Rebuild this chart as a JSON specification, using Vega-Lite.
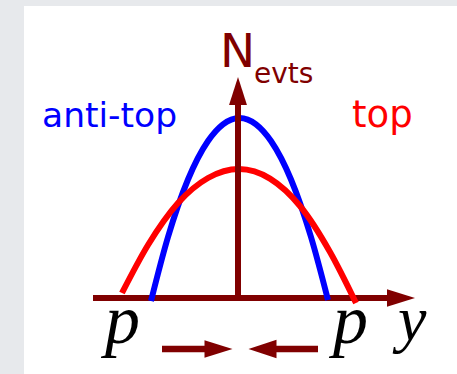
{
  "$schema": "https://vega.github.io/schema/vega-lite/v6.json",
  "autosize": {"type": "fit", "contains": "padding"},
  "width": 457,
  "height": 374,
  "padding": 0,
  "background": "#e7e9ec",
  "config": {"view": {"stroke": null}},
  "datasets": {
    "panel": [{"u": -214, "v": -76, "u2": 219, "v2": 292}],
    "curves": [
      {"series": "anti-top", "u": -87, "v": -3},
      {"series": "anti-top", "u": -70, "v": 61},
      {"series": "anti-top", "u": -50, "v": 118.5},
      {"series": "anti-top", "u": -30, "v": 157},
      {"series": "anti-top", "u": -15, "v": 173.7},
      {"series": "anti-top", "u": 1.5, "v": 180},
      {"series": "anti-top", "u": 18, "v": 173.7},
      {"series": "anti-top", "u": 33, "v": 157},
      {"series": "anti-top", "u": 53, "v": 118.5},
      {"series": "anti-top", "u": 73, "v": 61},
      {"series": "anti-top", "u": 90, "v": -2},
      {"series": "top", "u": -116, "v": 5},
      {"series": "top", "u": -90, "v": 53},
      {"series": "top", "u": -60, "v": 95},
      {"series": "top", "u": -30, "v": 120},
      {"series": "top", "u": 1, "v": 129},
      {"series": "top", "u": 32, "v": 119.4},
      {"series": "top", "u": 62, "v": 92},
      {"series": "top", "u": 92, "v": 46},
      {"series": "top", "u": 118, "v": -5}
    ],
    "hAxis": [{"u": -145, "v": 0, "u2": 152, "v2": 0}],
    "vAxis": [{"u": 0, "v": 0, "u2": 0, "v2": 195}],
    "shafts": [
      {"u": -76, "v": -51, "u2": -31, "v2": -51},
      {"u": 80, "v": -51, "u2": 36, "v2": -51}
    ],
    "headsRight": [{"u": 163, "v": 0}, {"u": -19.5, "v": -51}],
    "headsLeft": [{"u": 24.5, "v": -51}],
    "headsUp": [{"u": 0, "v": 207}],
    "labels": [
      {"kind": "N", "u": -18, "v": 231, "text": "N"},
      {"kind": "sub", "u": 16, "v": 215, "text": "evts"},
      {"kind": "anti", "u": -196, "v": 171, "text": "anti-top"},
      {"kind": "top", "u": 114, "v": 171, "text": "top"},
      {"kind": "p", "u": -133, "v": -45, "text": "p"},
      {"kind": "p", "u": 95, "v": -45, "text": "p"},
      {"kind": "y", "u": 160, "v": -42, "text": "y"}
    ]
  },
  "encoding": {
    "x": {"field": "u", "type": "quantitative", "axis": null, "scale": {"domain": [-238, 219], "nice": false, "zero": false}},
    "y": {"field": "v", "type": "quantitative", "axis": null, "scale": {"domain": [-76, 298], "nice": false, "zero": false}}
  },
  "layer": [
    {
      "data": {"name": "panel"},
      "mark": {"type": "rect", "color": "#ffffff"},
      "encoding": {"x2": {"field": "u2"}, "y2": {"field": "v2"}}
    },
    {
      "data": {"name": "hAxis"},
      "mark": {"type": "rule", "color": "#800000", "strokeWidth": 6, "strokeCap": "butt"},
      "encoding": {"x2": {"field": "u2"}, "y2": {"field": "v2"}}
    },
    {
      "data": {"name": "curves"},
      "transform": [{"filter": "datum.series === 'anti-top'"}],
      "mark": {"type": "line", "color": "#0000ff", "strokeWidth": 6, "strokeCap": "butt", "interpolate": "monotone"},
      "encoding": {}
    },
    {
      "data": {"name": "curves"},
      "transform": [{"filter": "datum.series === 'top'"}],
      "mark": {"type": "line", "color": "#ff0000", "strokeWidth": 6, "strokeCap": "butt", "interpolate": "monotone"},
      "encoding": {}
    },
    {
      "data": {"name": "vAxis"},
      "mark": {"type": "rule", "color": "#800000", "strokeWidth": 6, "strokeCap": "butt"},
      "encoding": {"x2": {"field": "u2"}, "y2": {"field": "v2"}}
    },
    {
      "data": {"name": "shafts"},
      "mark": {"type": "rule", "color": "#800000", "strokeWidth": 6.5, "strokeCap": "butt"},
      "encoding": {"x2": {"field": "u2"}, "y2": {"field": "v2"}}
    },
    {
      "data": {"name": "headsRight"},
      "mark": {"type": "point", "shape": "M-1,-0.62L1,0L-1,0.62Z", "size": 784, "filled": true, "opacity": 1, "color": "#800000", "strokeWidth": 0},
      "encoding": {}
    },
    {
      "data": {"name": "headsLeft"},
      "mark": {"type": "point", "shape": "M1,-0.66L-1,0L1,0.66Z", "size": 784, "filled": true, "opacity": 1, "color": "#800000", "strokeWidth": 0},
      "encoding": {}
    },
    {
      "data": {"name": "headsUp"},
      "mark": {"type": "point", "shape": "M-0.64,1L0,-1L0.64,1Z", "size": 784, "filled": true, "opacity": 1, "color": "#800000", "strokeWidth": 0},
      "encoding": {}
    },
    {
      "data": {"name": "labels"},
      "transform": [{"filter": "datum.kind === 'N'"}],
      "mark": {"type": "text", "font": "DejaVu Sans", "fontSize": 47, "color": "#800000", "align": "left", "baseline": "alphabetic"},
      "encoding": {"text": {"field": "text"}}
    },
    {
      "data": {"name": "labels"},
      "transform": [{"filter": "datum.kind === 'sub'"}],
      "mark": {"type": "text", "font": "DejaVu Sans", "fontSize": 28, "color": "#800000", "align": "left", "baseline": "alphabetic"},
      "encoding": {"text": {"field": "text"}}
    },
    {
      "data": {"name": "labels"},
      "transform": [{"filter": "datum.kind === 'anti'"}],
      "mark": {"type": "text", "font": "DejaVu Sans", "fontSize": 34.5, "color": "#0000ff", "align": "left", "baseline": "alphabetic"},
      "encoding": {"text": {"field": "text"}}
    },
    {
      "data": {"name": "labels"},
      "transform": [{"filter": "datum.kind === 'top'"}],
      "mark": {"type": "text", "font": "DejaVu Sans", "fontSize": 37, "color": "#ff0000", "align": "left", "baseline": "alphabetic"},
      "encoding": {"text": {"field": "text"}}
    },
    {
      "data": {"name": "labels"},
      "transform": [{"filter": "datum.kind === 'p'"}],
      "mark": {"type": "text", "font": "Liberation Serif", "fontStyle": "italic", "fontSize": 70, "color": "#000000", "align": "left", "baseline": "alphabetic"},
      "encoding": {"text": {"field": "text"}}
    },
    {
      "data": {"name": "labels"},
      "transform": [{"filter": "datum.kind === 'y'"}],
      "mark": {"type": "text", "font": "Liberation Serif", "fontStyle": "italic", "fontSize": 64, "color": "#000000", "align": "left", "baseline": "alphabetic"},
      "encoding": {"text": {"field": "text"}}
    }
  ]
}
